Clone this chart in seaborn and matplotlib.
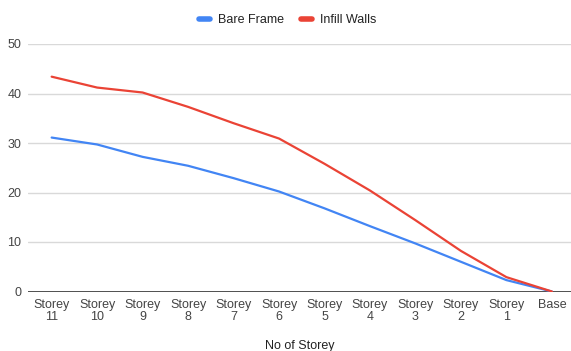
import numpy as np
import pandas as pd
import matplotlib
matplotlib.use("Agg")
import matplotlib.pyplot as plt
import seaborn as sns

storeys = ["Storey\n11", "Storey\n10", "Storey\n9", "Storey\n8", "Storey\n7", "Storey\n6",
           "Storey\n5", "Storey\n4", "Storey\n3", "Storey\n2", "Storey\n1", "Base"]
bare_frame = [31.1, 29.7, 27.2, 25.4, 22.9, 20.2, 16.8, 13.2, 9.7, 6.0, 2.3, 0.0]
infill_walls = [43.4, 41.2, 40.2, 37.3, 34.0, 30.9, 25.8, 20.4, 14.4, 8.2, 2.9, 0.0]
y_ticks = [0, 10, 20, 30, 40, 50]

colors = {"Bare Frame": "#4285F4", "Infill Walls": "#EA4335"}

df = pd.DataFrame({
    "storey": storeys * 2,
    "value": bare_frame + infill_walls,
    "series": ["Bare Frame"] * len(storeys) + ["Infill Walls"] * len(storeys),
})

sns.set_style("white")
plt.rcParams["font.family"] = ["Liberation Sans", "DejaVu Sans"]

fig = plt.figure(figsize=(5.71, 3.51), dpi=100)
# plot area in pixels: left 28, top 44, bottom 291.5
ax = fig.add_axes([28 / 571, 1 - 291.5 / 351, 1 - 28 / 571, 247.5 / 351])

sns.lineplot(data=df, x="storey", y="value", hue="series", palette=colors,
             linewidth=1.6, ax=ax, sort=False)

ax.set_xlim(-0.52, 11.42)
ax.set_ylim(0, 50)
ax.set_yticks(y_ticks)
ax.grid(axis="y", color="#d9d9d9", linewidth=1)
ax.axhline(0, color="#333333", linewidth=1.2, zorder=1)
for s in ax.spines.values():
    s.set_visible(False)
ax.tick_params(axis="both", length=0, labelsize=9, colors="#444444")
ax.tick_params(axis="y", pad=4.7)
ax.tick_params(axis="x", pad=5.5)
for t in ax.get_xticklabels():
    t.set_linespacing(0.95)
ax.set_ylabel("")
ax.set_xlabel("")
ax.text(0.5, -(345.7 - 291.5) / 247.5, "No of Storey", transform=ax.transAxes,
        fontsize=9, color="#222222", ha="center", va="center")

handles, labels = ax.get_legend_handles_labels()
for h in handles:
    h.set_linewidth(4)
ax.legend(handles, labels, loc="center", bbox_to_anchor=(0.5 - 12 / 543, 1 + 24 / 247.5),
          ncol=2, frameon=False, fontsize=9, handlelength=0.9, columnspacing=1.4,
          handletextpad=0.6, labelcolor="#222222")

fig.savefig("out.png", dpi=100)
